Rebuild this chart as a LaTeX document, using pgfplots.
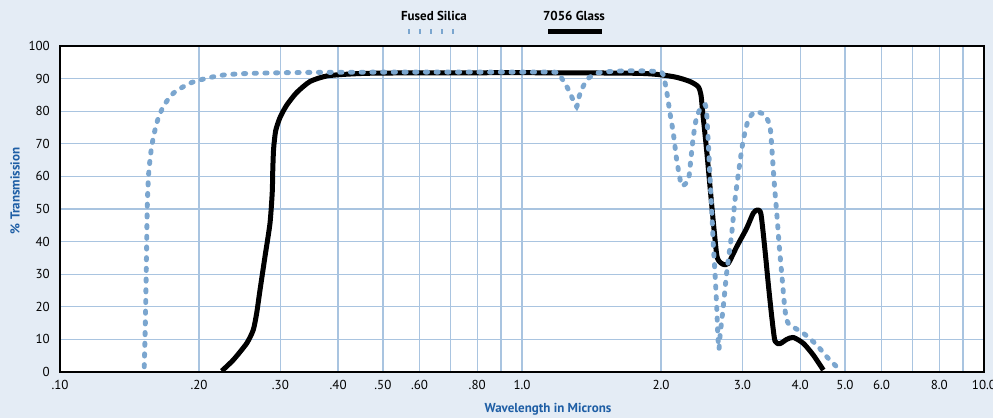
\documentclass[border=0pt]{standalone}
\usepackage{pgfplots}
\pgfplotsset{compat=1.18}
\usepackage{fontspec}
\setmainfont{PT Sans}
\definecolor{bgc}{RGB}{228,236,245}
\definecolor{gridc}{RGB}{169,196,224}
\definecolor{fsblue}{RGB}{123,166,207}
\definecolor{lblblue}{RGB}{30,94,165}
\begin{document}
\begin{tikzpicture}
\fill[bgc] (-60bp,-46bp) rectangle (933bp,372bp);
\begin{axis}[
  at={(0,0)}, anchor=south west,
  scale only axis, width=924bp, height=326bp,
  xmode=log, xmin=0.1, xmax=10, ymin=0, ymax=100,
  axis background/.style={fill=white},
  xtick={0.1,0.2,0.3,0.4,0.5,0.6,0.7,0.8,0.9,1,2,3,4,5,6,7,8,9,10},
  xticklabels={.10,.20,.30,.40,.50,.60,,.80,,1.0,2.0,3.0,4.0,5.0,6.0,,8.0,,10.0},
  ytick={0,10,...,100},
  yticklabels={0,10,20,30,40,50,60,70,80,90,100},
  log ticks with fixed point,
  major tick length=0pt,
  grid=major,
  major grid style={gridc, line width=1.3bp},
  axis line style={black, line width=1.2bp},
  ticklabel style={font=\fontsize{13bp}{15bp}\selectfont, text=black},
  yticklabel style={anchor=east, inner sep=0pt, xshift=-10bp},
  xticklabel style={anchor=north, inner sep=0pt, yshift=-8bp},
  clip=true,
]
% 7056 Glass
\addplot[black, line width=5bp, smooth, tension=0.4, line join=round] coordinates {
(0.2239,0.3) (0.2372,3.7) (0.2536,8.8) (0.2620,12.9) (0.2665,18.0) (0.2709,25.0)
(0.2778,35.4) (0.2848,45.6) (0.2880,55.0) (0.2888,62.0) (0.2900,68.5) (0.2930,74.0)
(0.2993,78.0) (0.3094,81.8) (0.3252,85.7) (0.3476,89.1) (0.3779,90.8) (0.4244,91.4) (0.5010,91.7)
(1.0,91.8) (1.8,91.6) (2.126,90.6) (2.310,89.1) (2.407,87.5) (2.440,85.0) (2.460,80.0)
(2.510,68.0) (2.552,57.0) (2.595,46.0) (2.639,36.0) (2.670,34.0) (2.727,33.0)
(2.796,33.3) (2.915,38.4) (3.064,44.1) (3.166,48.7) (3.230,49.7) (3.290,48.5)
(3.357,37.4) (3.412,27.2) (3.472,17.0) (3.529,9.5) (3.618,8.7) (3.741,10.0)
(3.866,10.6) (4.064,8.8) (4.271,5.2) (4.490,0.6)
};
% Fused Silica
\addplot[fsblue, line width=4.9bp, line cap=round, dash pattern=on 2.2bp off 8.5bp, smooth, tension=0.4] coordinates {
(0.1522,1.6) (0.1530,14.9) (0.1537,30.3) (0.1545,50.7) (0.1556,60.9) (0.1579,69.1)
(0.1619,76.3) (0.1673,81.4) (0.1759,85.5) (0.1911,88.6) (0.2077,90.1) (0.2259,91.1)
(0.2579,91.6) (0.35,91.9) (0.6,92.0) (1.0,92.0) (1.189,91.9) (1.219,90.1) (1.253,87.3)
(1.281,84.4) (1.313,81.4) (1.328,84.3) (1.350,87.0) (1.385,89.8) (1.446,91.6)
(1.526,92.1) (1.685,92.4) (1.893,92.3) (1.990,92.0) (2.022,91.2) (2.057,86.0)
(2.091,79.4) (2.126,73.2) (2.162,65.0) (2.191,60.4) (2.217,57.1) (2.291,58.9)
(2.319,65.0) (2.349,72.2) (2.389,78.3) (2.449,81.4) (2.502,81.4) (2.531,70.2)
(2.552,59.9) (2.574,49.7) (2.595,39.0) (2.617,30.3) (2.639,20.0) (2.655,11.0)
(2.669,7.0) (2.685,11.5) (2.727,20.0) (2.773,30.3) (2.844,42.5) (2.891,52.8)
(2.954,63.0) (3.013,71.2) (3.089,77.3) (3.194,79.8) (3.357,78.8) (3.442,75.2)
(3.472,69.1) (3.512,58.9) (3.560,48.7) (3.606,38.4) (3.660,28.2) (3.710,19.0)
(3.771,14.9) (4.064,11.9) (4.344,8.3) (4.566,4.7) (4.838,1.1)
};
\end{axis}
% axis titles
\node[font=\bfseries\fontsize{13bp}{15bp}\selectfont, text=lblblue] at (488bp,-37bp) {Wavelength in Microns};
\node[font=\bfseries\fontsize{13bp}{15bp}\selectfont, text=lblblue, rotate=90] at (-45bp,181bp) {\% Transmission};
% legend
\node[font=\bfseries\fontsize{13bp}{15bp}\selectfont] at (374bp,356bp) {Fused Silica};
\draw[fsblue, line width=5bp, dash pattern=on 2bp off 9bp] (348bp,340bp) -- (402bp,340bp);
\node[font=\bfseries\fontsize{13bp}{15bp}\selectfont] at (514bp,356bp) {7056 Glass};
\draw[black, line width=5bp] (488bp,340bp) -- (541.7bp,340bp);
\pgfresetboundingbox
\useasboundingbox (-60bp,-46bp) rectangle (933bp,372bp);
\end{tikzpicture}
\end{document}
